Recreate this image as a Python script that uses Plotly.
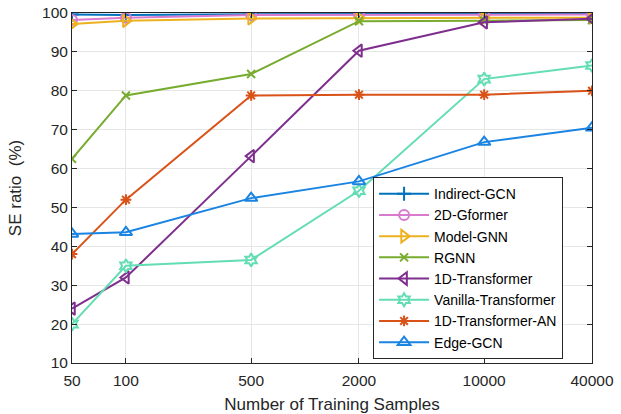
import plotly.graph_objects as go

samples = [50, 100, 500, 2000, 10000, 40000]
x_tick_labels = ["50", "100", "500", "2000", "10000", "40000"]

indirect_gcn = [99.6, 99.5, 99.7, 99.7, 99.7, 99.8]
gformer_2d = [98.2, 98.8, 99.5, 99.5, 99.5, 99.6]
model_gnn = [97.2, 98.0, 98.6, 98.7, 98.7, 98.8]
rgnn = [62.5, 78.8, 84.3, 97.9, 98.0, 98.2]
transformer_1d = [24.0, 32.0, 63.2, 90.3, 97.6, 98.5]
vanilla_transformer = [20.0, 35.0, 36.5, 54.3, 83.0, 86.5]
transformer_1d_an = [38.0, 52.0, 78.8, 79.0, 79.0, 80.0]
edge_gcn = [43.2, 43.6, 52.4, 56.7, 66.8, 70.5]

series = [
    ("Indirect-GCN", indirect_gcn, "#0072BD", "cross-thin", 10),
    ("2D-Gformer", gformer_2d, "#D67BD0", "circle-open", 10),
    ("Model-GNN", model_gnn, "#EDB120", "triangle-right-open", 11),
    ("RGNN", rgnn, "#77AC30", "x-thin", 8),
    ("1D-Transformer", transformer_1d, "#7E2F8E", "triangle-left-open", 11),
    ("Vanilla-Transformer", vanilla_transformer, "#63DDB3", "hexagram-open", 10),
    ("1D-Transformer-AN", transformer_1d_an, "#D95319", "asterisk-open", 9),
    ("Edge-GCN", edge_gcn, "#1A84E3", "triangle-up-open", 11),
]

FONT = "Liberation Sans, Arial, Helvetica"
TXT = "#262626"

fig = go.Figure()
for name, vals, color, sym, size in series:
    fig.add_trace(go.Scatter(
        x=samples, y=vals, name=name, mode="lines+markers",
        line=dict(color=color, width=2),
        marker=dict(symbol=sym, size=size, color=color,
                    line=dict(color=color, width=2)),
    ))

axis_common = dict(
    showgrid=True, gridcolor="#E6E6E6", gridwidth=1,
    showline=True, linecolor="#262626", linewidth=1, mirror="ticks",
    ticks="inside", ticklen=5, tickcolor="#262626",
    tickfont=dict(family=FONT, size=15.5, color=TXT),
    zeroline=False, automargin=False, ticklabeloverflow="allow",
)

fig.update_xaxes(
    type="log", range=[1.69897, 4.60206],
    tickvals=samples, ticktext=x_tick_labels,
    ticklabelstandoff=3,
    title=dict(text="Number of Training Samples",
               font=dict(family=FONT, size=17, color=TXT),
               standoff=10),
    **axis_common,
)
fig.update_yaxes(
    range=[10, 100], dtick=10,
    title=dict(text="SE ratio  (%)",
               font=dict(family=FONT, size=17, color=TXT),
               standoff=16),
    **axis_common,
)

fig.update_layout(
    width=621, height=414,
    margin=dict(l=72, r=29, t=13, b=51),
    plot_bgcolor="white", paper_bgcolor="white",
    showlegend=True,
    legend=dict(
        x=0.579, y=0.531, xanchor="left", yanchor="top",
        bgcolor="white", bordercolor="#262626", borderwidth=1,
        font=dict(family=FONT, size=14, color="#000000"),
        itemwidth=50, tracegroupgap=0,
    ),
)

fig.write_html("out.html", config={"displayModeBar": False},
               post_script="document.body.style.margin='0';")
